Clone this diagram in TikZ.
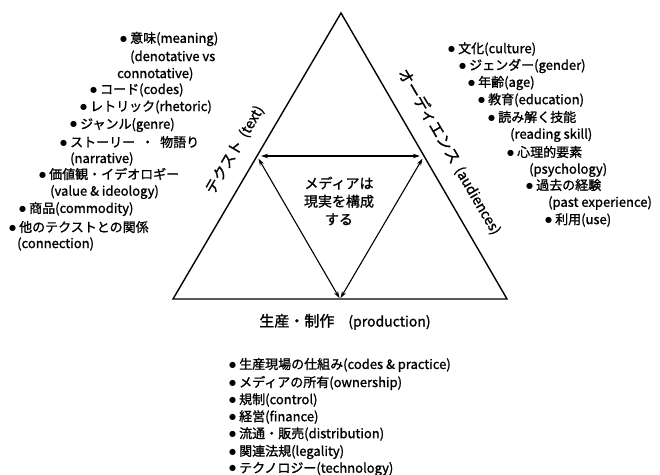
\documentclass[tikz,border=0pt]{standalone}
\usepackage{fontspec}
\setmainfont{Noto Sans CJK JP}[AutoFakeBold=1.2]
\newfontfamily\symfont{DejaVu Sans}
\usetikzlibrary{arrows.meta,calc}
\newcommand{\bul}{\raisebox{1.8pt}{\symfont\fontsize{8}{8}\selectfont ●}\hspace{3pt}}
\tikzset{
  edge/.style={line width=1.4pt, line join=miter},
  link/.style={line width=1.1pt, {Stealth[length=7pt,width=4.5pt]}-{Stealth[length=7pt,width=4.5pt]}},
  item/.style={anchor=west, inner sep=0pt, font=\fontsize{13}{13}\selectfont\bfseries},
  side/.style={inner sep=0pt, text height=11pt, text depth=2pt, font=\bfseries},
}
\begin{document}
\begin{tikzpicture}[x=1pt,y=-1pt]
\useasboundingbox (0,0) rectangle (660,474);
% triangle
\coordinate (A) at (341,13);
\coordinate (B) at (173,299);
\coordinate (C) at (507,299);
\draw[edge] (A) -- (B) -- (C) -- cycle;
\coordinate (L) at ($(A)!0.5!(B)$);
\coordinate (R) at ($(A)!0.5!(C)$);
\coordinate (M) at ($(B)!0.5!(C)$);
\draw[link, shorten <=4pt, shorten >=4pt] (L) -- (R);
\draw[link, shorten <=3pt, shorten >=1pt] (L) -- (M);
\draw[link, shorten <=3pt, shorten >=1pt] (R) -- (M);
% centre
\node[align=center, inner sep=0pt, font=\fontsize{14}{18}\selectfont\bfseries] (core) at (339,201) {メディアは\\現実を構成\\する};
% side labels
\node[side, rotate=59.6] (text) at (235,150) {{\fontsize{15}{15}\selectfont テクスト}\hspace{6pt}{\fontsize{14}{14}\selectfont (text)}};
\node[side, rotate=-59.6] (aud) at (449,152) {{\fontsize{15.5}{15}\selectfont オーディエンス}\hspace{6pt}{\fontsize{14}{14}\selectfont (audiences)}};
\node[side] (prod) at (345,322) {{\fontsize{15}{15}\selectfont 生産・制作}\hspace{14pt}{\fontsize{14}{14}\selectfont (production)}};
% left list
\node[item] (t1) at (120,39) {\bul 意味(meaning)};
\node[item] (t1b) at (130,57) {(denotative vs};
\node[item] (t1c) at (117,74) {connotative)};
\node[item] (t2) at (90,90) {\bul コード(codes)};
\node[item] (t3) at (80,107) {\bul レトリック(rhetoric)};
\node[item] (t4) at (70,125) {\bul ジャンル(genre)};
\node[item] (t5) at (60,142) {\bul ストーリー\hspace{6pt}・\hspace{6pt}物語り};
\node[item] (t5b) at (70,159) {(narrative)};
\node[item] (t6) at (39,174) {\bul 価値観・イデオロギー};
\node[item] (t6b) at (50,192) {(value \& ideology)};
\node[item] (t7) at (19,209) {\bul 商品(commodity)};
\node[item] (t8) at (9,227) {\bul 他のテクストとの関係};
\node[item] (t8b) at (17,244) {(connection)};
% right list
\node[item] (a1) at (448,49) {\bul 文化(culture)};
\node[item] (a2) at (459,66) {\bul ジェンダー(gender)};
\node[item] (a3) at (468,83) {\bul 年齢(age)};
\node[item] (a4) at (478,100) {\bul 教育(education)};
\node[item] (a5) at (488,117) {\bul 読み解く技能};
\node[item] (a5b) at (510,135) {(reading skill)};
\node[item] (a6) at (507,152) {\bul 心理的要素};
\node[item] (a6b) at (529,170) {(psychology)};
\node[item] (a7) at (526,185) {\bul 過去の経験};
\node[item] (a7b) at (548,203) {(past experience)};
\node[item] (a8) at (545,220) {\bul 利用(use)};
% bottom list
\node[item] (p1) at (229,365) {\bul 生産現場の仕組み(codes \& practice)};
\node[item] (p2) at (229,383) {\bul メディアの所有(ownership)};
\node[item] (p3) at (229,400) {\bul 規制(control)};
\node[item] (p4) at (229,417) {\bul 経営(finance)};
\node[item] (p5) at (229,434) {\bul 流通・販売(distribution)};
\node[item] (p6) at (229,452) {\bul 関連法規(legality)};
\node[item] (p7) at (229,469) {\bul テクノロジー(technology)};
\end{tikzpicture}
\end{document}
